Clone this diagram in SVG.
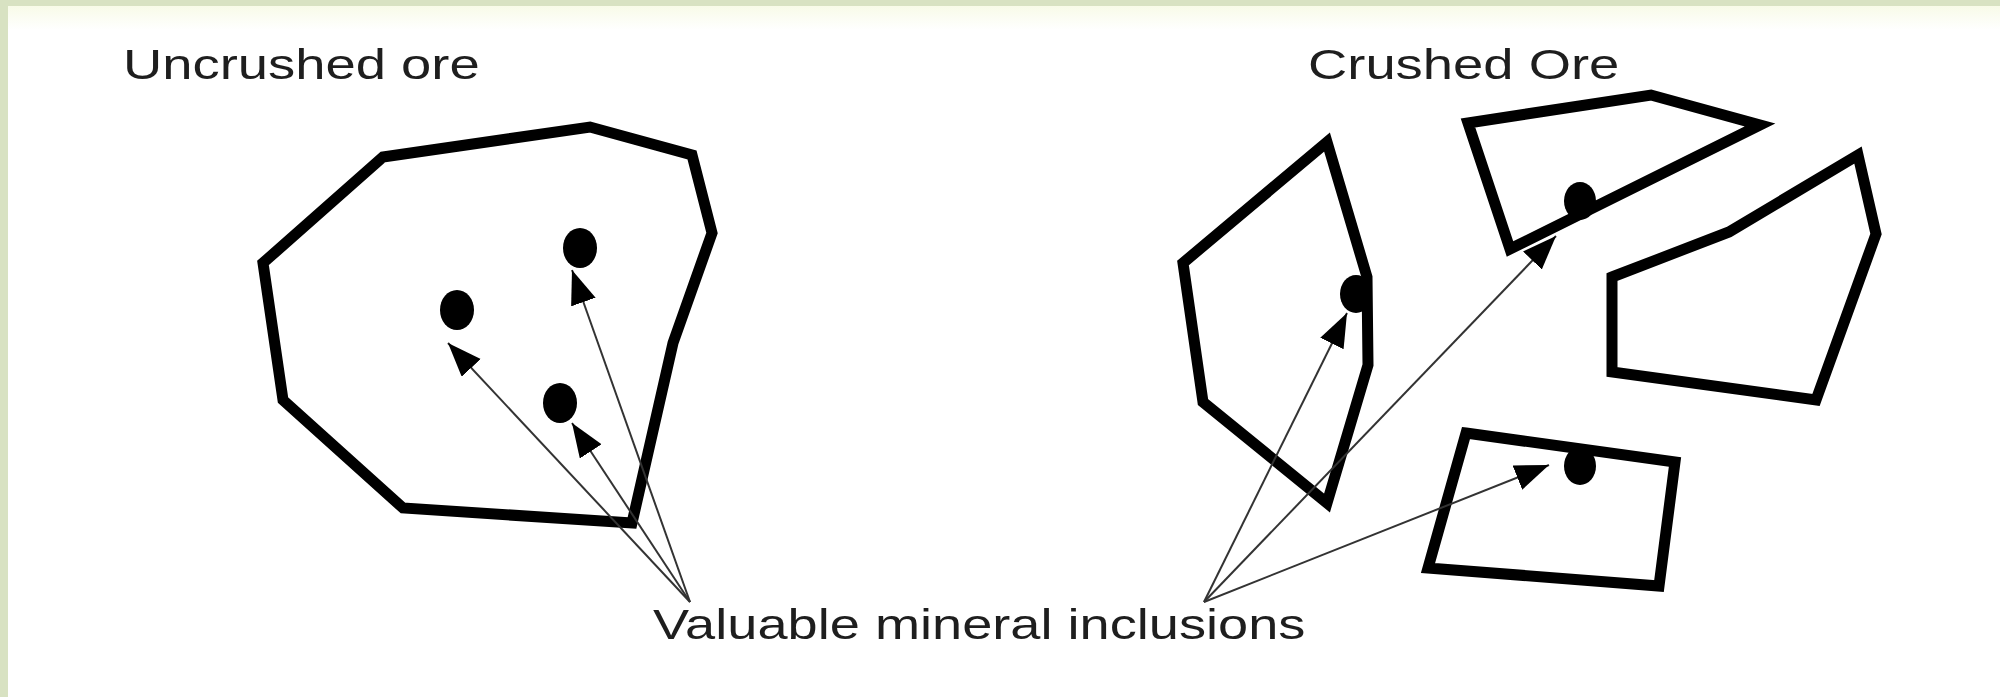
<svg xmlns="http://www.w3.org/2000/svg" width="2000" height="697" viewBox="0 0 2000 697">
  <style>
    .rock { fill: none; stroke: #000; stroke-width: 11; stroke-linejoin: miter; stroke-miterlimit: 6; }
    .dot { fill: #000; }
    .lbl { font-family: "Liberation Sans", Arial, sans-serif; font-size: 43px; fill: #1e1e1e; }
    .conn { stroke: #333; stroke-width: 2; fill: none; marker-end: url(#ah); }
  </style>
  <defs>
    <marker id="ah" markerUnits="userSpaceOnUse" markerWidth="36" markerHeight="28" refX="34" refY="13" orient="auto">
      <path d="M0,0 L34,13 L0,26 Z" fill="#000"/>
    </marker>
    <linearGradient id="topfade" x1="0" y1="0" x2="0" y2="1">
      <stop offset="0" stop-color="#f8fbe8"/>
      <stop offset="1" stop-color="#ffffff"/>
    </linearGradient>
  </defs>

  <rect x="0" y="0" width="2000" height="697" fill="#d8e2c2"/>
  <rect x="8" y="6" width="1992" height="691" fill="#ffffff"/>
  <rect x="8" y="6" width="1992" height="24" fill="url(#topfade)"/>

  <g id="label-uncrushed">
    <text class="lbl" transform="translate(123,79) scale(1.265,1)">Uncrushed ore</text>
  </g>
  <g id="label-crushed">
    <text class="lbl" transform="translate(1308,79) scale(1.265,1)">Crushed Ore</text>
  </g>
  <g id="label-inclusions">
    <text class="lbl" transform="translate(653,639) scale(1.26,1)">Valuable mineral inclusions</text>
  </g>

  <g id="uncrushed-ore">
    <polygon class="rock" points="383,157 590,127 692,155 712,233 673,343 632,523 403,508 283,400 263,263"/>
    <ellipse class="dot" cx="580" cy="248" rx="17" ry="20"/>
    <ellipse class="dot" cx="457" cy="310" rx="17" ry="20"/>
    <ellipse class="dot" cx="560" cy="403" rx="17" ry="20"/>
  </g>

  <g id="fragment-a">
    <polygon class="rock" points="1327,142 1367,277 1368,365 1327,503 1203,402 1183,263"/>
    <ellipse class="dot" cx="1356" cy="294" rx="16" ry="19"/>
  </g>
  <g id="fragment-b">
    <polygon class="rock" points="1468,123 1651,95 1760,125 1510,249"/>
    <ellipse class="dot" cx="1580" cy="201" rx="16" ry="19"/>
  </g>
  <g id="fragment-c">
    <polygon class="rock" points="1612,277 1729,232 1858,155 1876,234 1816,400 1612,372"/>
  </g>
  <g id="fragment-d">
    <polygon class="rock" points="1466,433 1675,462 1659,586 1428,568"/>
    <ellipse class="dot" cx="1580" cy="466" rx="16" ry="19"/>
  </g>

  <g id="connectors">
    <line class="conn" x1="690" y1="602" x2="572" y2="270"/>
    <line class="conn" x1="690" y1="602" x2="448" y2="343"/>
    <line class="conn" x1="690" y1="602" x2="572" y2="423"/>
    <line class="conn" x1="1204" y1="602" x2="1347" y2="313"/>
    <line class="conn" x1="1204" y1="602" x2="1556" y2="236"/>
    <line class="conn" x1="1204" y1="602" x2="1549" y2="465"/>
  </g>
</svg>
